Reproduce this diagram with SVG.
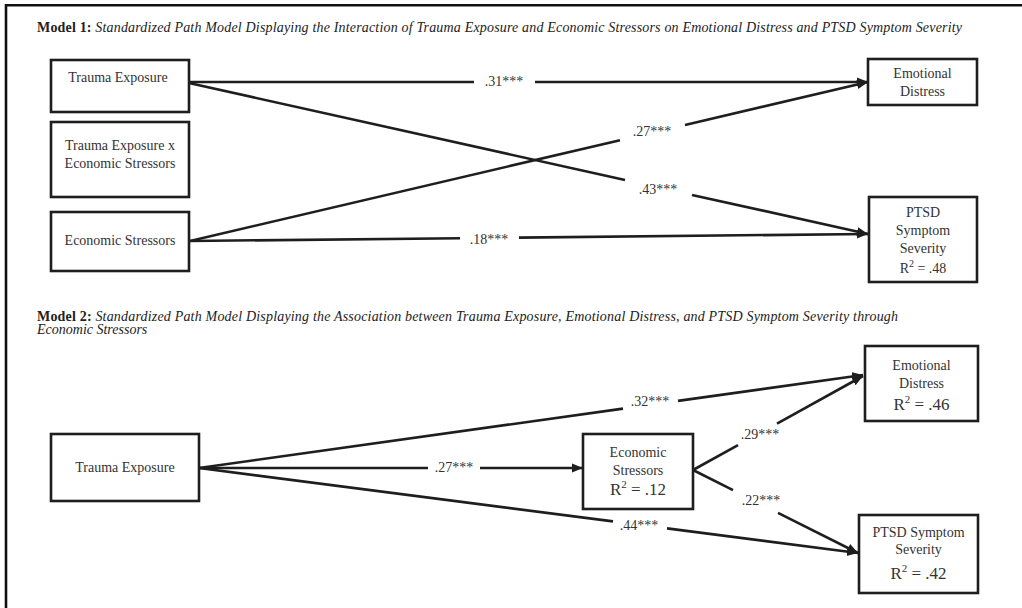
<svg xmlns="http://www.w3.org/2000/svg" width="1022" height="608" viewBox="0 0 1022 608">
<style>
.box{fill:#fff;stroke:#1e1e1e;stroke-width:2.6}
.ln{fill:none;stroke:#1e1e1e;stroke-width:2.6}
.t{font-family:"Liberation Serif","Times New Roman",serif;font-size:14px;fill:#333;text-anchor:middle}
.r{font-size:17px}
.lbl{font-family:"Liberation Serif","Times New Roman",serif;font-size:14px;fill:#333;text-anchor:middle}
.ttl{font-family:"Liberation Serif","Times New Roman",serif;font-size:14px;fill:#222}
</style>
<defs>
<marker id="ah" markerUnits="userSpaceOnUse" markerWidth="12" markerHeight="10" refX="11" refY="5" orient="auto">
<path d="M0,0.5 L11,5 L0,9.5 z" fill="#1e1e1e"/>
</marker>
</defs>
<rect width="1022" height="608" fill="#fff"/>
<path d="M6,608 L6,5.3 L1022,5.3" fill="none" stroke="#111" stroke-width="2.6"/>

<text class="ttl" x="37" y="32" textLength="925" lengthAdjust="spacing"><tspan font-weight="bold">Model 1:</tspan><tspan font-style="italic"> Standardized Path Model Displaying the Interaction of Trauma Exposure and Economic Stressors on Emotional Distress and PTSD Symptom Severity</tspan></text>
<text class="ttl" x="37" y="321" textLength="861" lengthAdjust="spacing"><tspan font-weight="bold">Model 2:</tspan><tspan font-style="italic"> Standardized Path Model Displaying the Association between Trauma Exposure, Emotional Distress, and PTSD Symptom Severity through</tspan></text>
<text class="ttl" x="37" y="334" font-style="italic">Economic Stressors</text>

<g id="connectors">
<path class="ln" d="M189,82 L474,82"/>
<path class="ln" d="M535,82 L868,82" marker-end="url(#ah)"/>
<text class="lbl" x="504" y="86">.31***</text>

<path class="ln" d="M189,83 L625,180"/>
<path class="ln" d="M692,194.9 L868,234" marker-end="url(#ah)"/>
<text class="lbl" x="658" y="194">.43***</text>

<path class="ln" d="M190,241 L620,140.2"/>
<path class="ln" d="M685,124.9 L868,82" marker-end="url(#ah)"/>
<text class="lbl" x="652" y="136">.27***</text>

<path class="ln" d="M189,241 L460,238.2"/>
<path class="ln" d="M519,237.6 L868,234" marker-end="url(#ah)"/>
<text class="lbl" x="489" y="244">.18***</text>

<path class="ln" d="M199,468 L623,408.6"/>
<path class="ln" d="M678,400.9 L863,375" marker-end="url(#ah)"/>
<text class="lbl" x="650" y="406">.32***</text>

<path class="ln" d="M199,468 L428,468"/>
<path class="ln" d="M480,468 L583,468" marker-end="url(#ah)"/>
<text class="lbl" x="454" y="472">.27***</text>

<path class="ln" d="M199,468 L613,521.4"/>
<path class="ln" d="M667,528.4 L858,553" marker-end="url(#ah)"/>
<text class="lbl" x="639" y="530">.44***</text>

<path class="ln" d="M693,470 L738,445.1"/>
<path class="ln" d="M777,423.6 L863,376" marker-end="url(#ah)"/>
<text class="lbl" x="760" y="439">.29***</text>

<path class="ln" d="M693,470 L733,490.1"/>
<path class="ln" d="M778,512.8 L858,553" marker-end="url(#ah)"/>
<text class="lbl" x="761" y="505">.22***</text>
</g>

<g id="m1-trauma">
<rect class="box" x="51" y="60" width="138" height="52"/>
<text class="t" x="118" y="82">Trauma Exposure</text>
</g>
<g id="m1-interaction">
<rect class="box" x="51" y="122" width="138" height="75"/>
<text class="t" x="120" y="150">Trauma Exposure x</text>
<text class="t" x="120" y="168">Economic Stressors</text>
</g>
<g id="m1-economic">
<rect class="box" x="51" y="212" width="138" height="59"/>
<text class="t" x="120" y="245">Economic Stressors</text>
</g>
<g id="m1-emotional">
<rect class="box" x="868" y="59" width="109" height="46"/>
<text class="t" x="922.5" y="78">Emotional</text>
<text class="t" x="922.5" y="96">Distress</text>
</g>
<g id="m1-ptsd">
<rect class="box" x="869" y="197" width="108" height="85"/>
<text class="t" x="923" y="216.5">PTSD</text>
<text class="t" x="923" y="234.5">Symptom</text>
<text class="t" x="923" y="252.5">Severity</text>
<text class="t" x="923" y="273" font-size="15">R<tspan font-size="10" dy="-6">2</tspan><tspan dy="6"> = .48</tspan></text>
</g>

<g id="m2-trauma">
<rect class="box" x="51" y="434" width="148" height="67"/>
<text class="t" x="125" y="472">Trauma Exposure</text>
</g>
<g id="m2-economic">
<rect class="box" x="583" y="434" width="110" height="75"/>
<text class="t" x="638" y="456.5">Economic</text>
<text class="t" x="638" y="474.5">Stressors</text>
<text class="t r" x="638" y="495">R<tspan font-size="11" dy="-7">2</tspan><tspan dy="7"> = .12</tspan></text>
</g>
<g id="m2-emotional">
<rect class="box" x="865" y="346" width="113" height="75"/>
<text class="t" x="921.5" y="369.5">Emotional</text>
<text class="t" x="921.5" y="387.5">Distress</text>
<text class="t r" x="921.5" y="410">R<tspan font-size="11" dy="-7">2</tspan><tspan dy="7"> = .46</tspan></text>
</g>
<g id="m2-ptsd">
<rect class="box" x="859" y="515" width="119" height="78"/>
<text class="t" x="918.5" y="536.5">PTSD Symptom</text>
<text class="t" x="918.5" y="553.5">Severity</text>
<text class="t r" x="918.5" y="579">R<tspan font-size="11" dy="-7">2</tspan><tspan dy="7"> = .42</tspan></text>
</g>
</svg>
